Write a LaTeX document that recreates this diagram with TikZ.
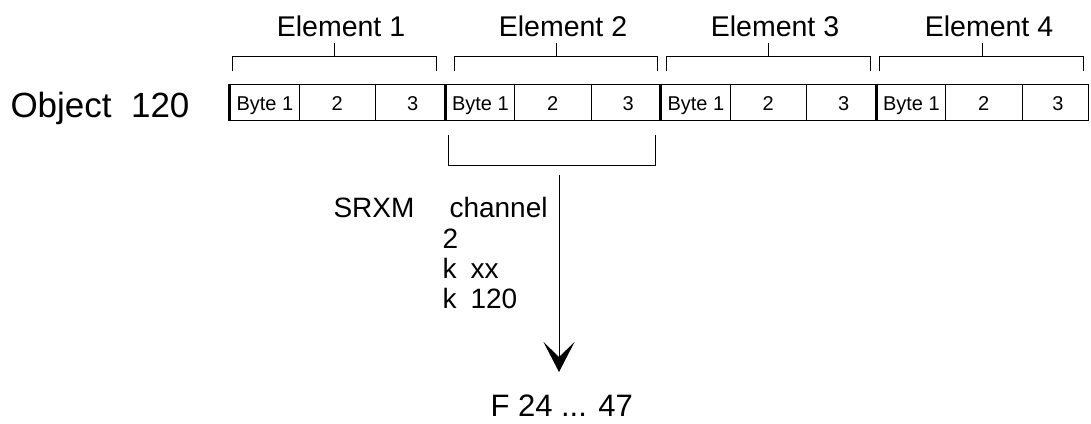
\documentclass[tikz,border=0pt]{standalone}
\usepackage{fontspec}
\setmainfont{Liberation Sans}
\usetikzlibrary{arrows.meta}
\begin{document}
\begin{tikzpicture}[x=1pt, y=-1pt, line width=1pt,
  txt/.style={inner sep=0pt, anchor=base west},
  ctxt/.style={inner sep=0pt, anchor=base},
  bigfont/.style={font=\fontsize{35}{40}\selectfont},
  elemfont/.style={font=\fontsize{28.5}{32}\selectfont},
  bytefont/.style={font=\fontsize{20}{24}\selectfont},
  notefont/.style={font=\fontsize{28}{31}\selectfont},
  endfont/.style={font=\fontsize{31}{36}\selectfont},
  separator/.style={line width=3pt}]
\useasboundingbox (0,0) rectangle (1091,423);

% object label
\node[txt, bigfont] (obj) at (10,117) {Object\ \ 120};

% the four 3-byte elements of the object
\foreach \i/\s/\e in {1/228.5/444, 2/444/659.5, 3/659.5/875, 4/875/1088} {
  \draw (\s,84) rectangle (\e,120);
  \draw (\s+70.5,84) -- (\s+70.5,120);
  \draw (\s+147,84) -- (\s+147,120);
  \draw[separator] (\s+1,83.5) -- (\s+1,120.5);
  \node[txt, bytefont] (byte\i a) at (\s+7.5,110) {Byte 1};
  \node[ctxt, bytefont] (byte\i b) at (\s+108.75,110) {2};
  \node[ctxt, bytefont] (byte\i c) at ({(\s+147+\e)/2+3},110) {3};
}

% braces naming each element
\foreach \i/\l/\r/\c in {1/232/436/334, 2/454/657/556, 3/666/870/768, 4/879/1083/982} {
  \draw (\l,71) |- (\r,56) -- (\r,71);
  \draw (\c,56) -- (\c,43);
  \node[ctxt, elemfont] (elem\i) at (\c+7,36) {Element \i};
}

% bracket under element 2 and the transfer arrow
\draw (448,135) |- (655,165) -- (655,135);
\coordinate (src) at (559,175);
\coordinate (tip) at (559,372);
\draw[-{Stealth[length=30pt, width=31pt, inset=15pt]}] (src) -- (tip);

% command parameters
\node[txt, notefont] (srxm) at (333,217) {SRXM};
\node[txt, notefont] (chan) at (449,217) {channel};
\node[txt, notefont] (p2) at (442,248) {2};
\node[txt, notefont] (pxx) at (442,278) {k\hspace{14pt}xx};
\node[txt, notefont] (p120) at (442,308) {k\hspace{14pt}120};

% destination flags
\node[txt, endfont] (flags) at (490,416) {F 24 ... 47};
\end{tikzpicture}
\end{document}
